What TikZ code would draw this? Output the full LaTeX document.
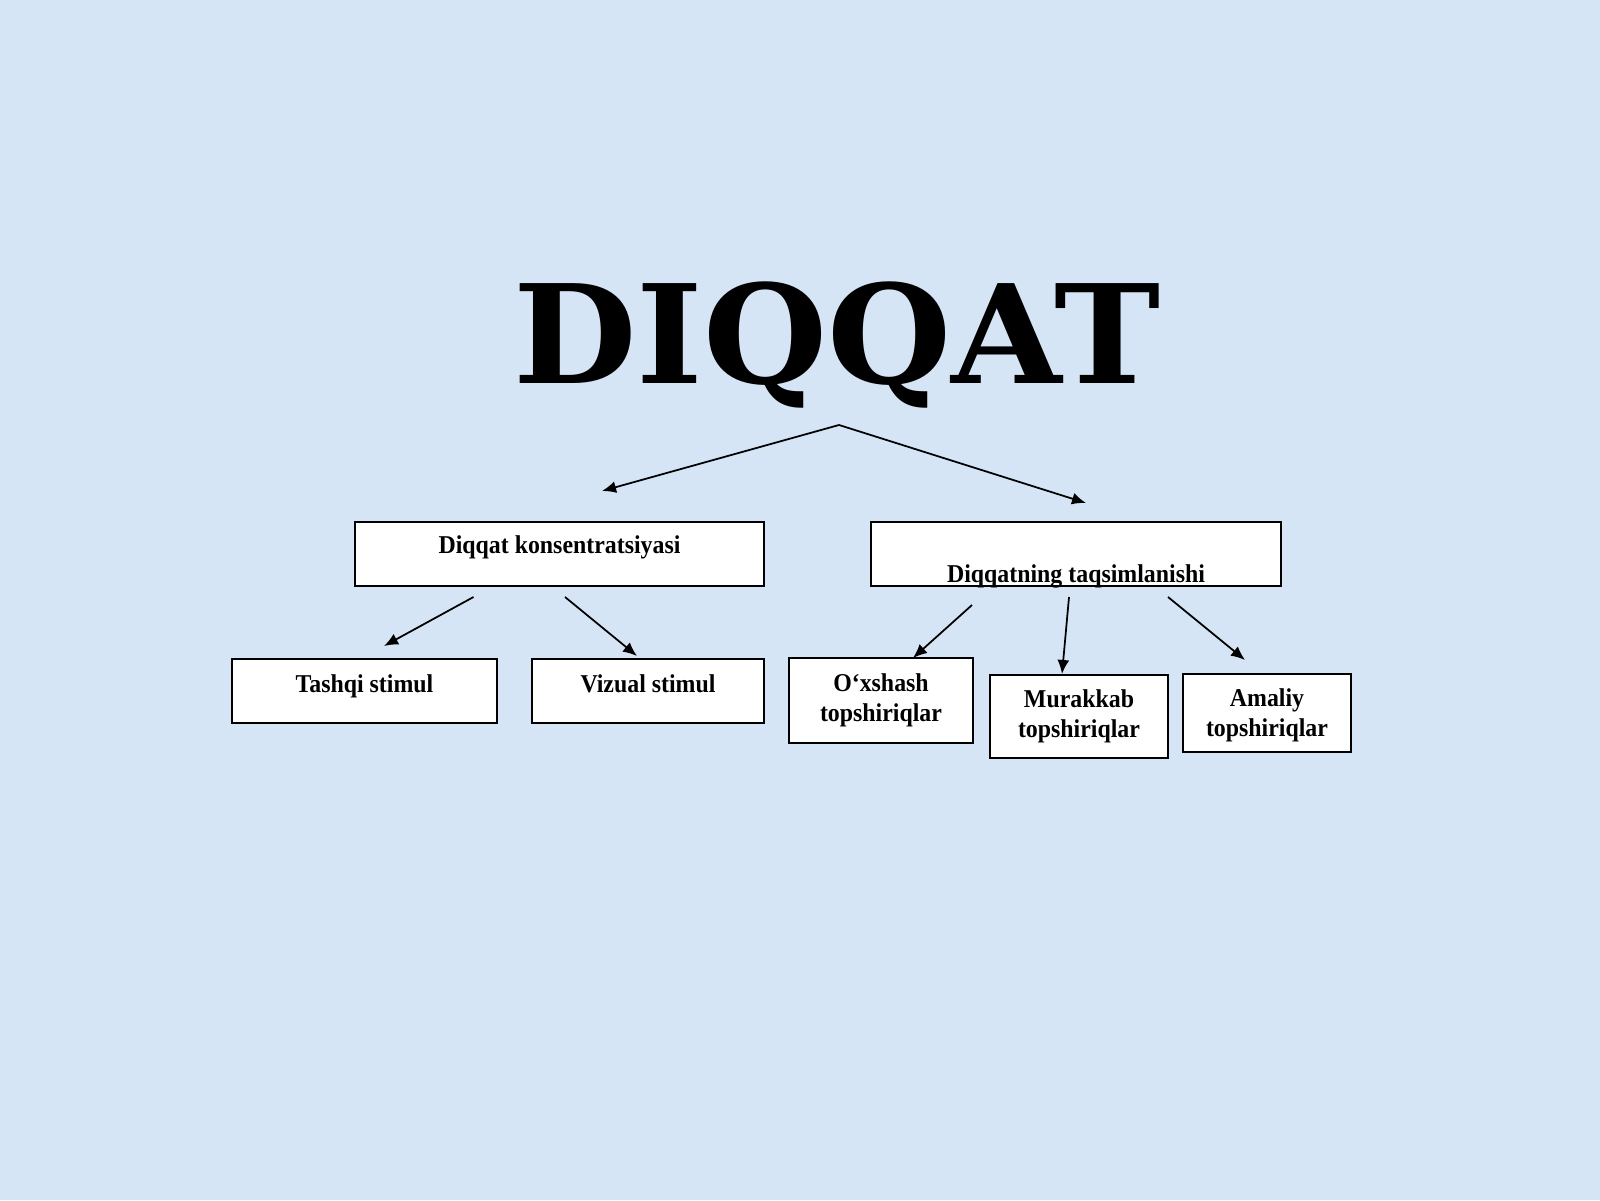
\documentclass[tikz,border=0pt]{standalone}
\usepackage{fontspec}
\setmainfont{Liberation Serif}[FakeStretch=0.93]
\newfontfamily\titlefont{DejaVu Serif}[FakeStretch=1.04]
\usepackage{tikz}
\usetikzlibrary{positioning,arrows.meta}
\definecolor{paper}{RGB}{213,229,246}
\tikzstyle{box} = [rectangle, draw=black, line width=0.6pt, fill=white, inner sep=0pt, font=\bfseries\fontsize{7.3}{8.5}\selectfont, align=center]
\tikzstyle{arrow} = [line width=0.5pt,-{Latex[length=4pt,width=3.4pt]}]

\begin{document}
\begin{tikzpicture}
        \fill[paper] (0,0) rectangle (16,12);
        \useasboundingbox (0,0) rectangle (16,12);
        \node[anchor=base, font=\titlefont\bfseries\fontsize{39}{39}\selectfont] (diqqat) at (8.37,8.17) {DIQQAT};
        \coordinate (top) at (8.39,7.75);
        % second row
        \node[box, minimum width=4.09cm, text height=0.31cm, text depth=0.33cm] (konc) at (5.595,6.46) {Diqqat konsentratsiyasi};
        \node[box, minimum width=4.10cm, text height=0.60cm, text depth=0.04cm] (taqsim) at (10.76,6.46) {Diqqatning taqsimlanishi};
        % third row
        \node[box, minimum width=2.65cm, text height=0.33cm, text depth=0.31cm] (tashqi) at (3.645,5.09) {Tashqi stimul};
        \node[box, minimum width=2.32cm, text height=0.33cm, text depth=0.31cm] (vizual) at (6.48,5.09) {Vizual stimul};
        \node[box, minimum width=1.84cm, minimum height=0.85cm] (oxshash) at (8.81,4.995) {O‘xshash\\topshiriqlar};
        \node[box, minimum width=1.78cm, minimum height=0.83cm] (murakkab) at (10.79,4.835) {Murakkab\\topshiriqlar};
        \node[box, minimum width=1.68cm, minimum height=0.78cm, text depth=0cm] (amaliy) at (12.67,4.87) {Amaliy\\topshiriqlar};
        % arrow ends
        \coordinate (kl) at (6.02,7.09);
        \coordinate (tl) at (10.86,6.97);
        \coordinate (k1) at (4.735,6.03); \coordinate (k1e) at (3.84,5.54);
        \coordinate (k2) at (5.65,6.03); \coordinate (k2e) at (6.37,5.44);
        \coordinate (t1) at (9.72,5.95); \coordinate (t1e) at (9.13,5.42);
        \coordinate (t2) at (10.69,6.03); \coordinate (t2e) at (10.62,5.26);
        \coordinate (t3) at (11.68,6.03); \coordinate (t3e) at (12.45,5.40);
        \draw[arrow] (top) -- (kl);
        \draw[arrow] (top) -- (tl);
        \draw[arrow] (k1) -- (k1e);
        \draw[arrow] (k2) -- (k2e);
        \draw[arrow] (t1) -- (t1e);
        \draw[arrow] (t2) -- (t2e);
        \draw[arrow] (t3) -- (t3e);
\end{tikzpicture}
\end{document}
